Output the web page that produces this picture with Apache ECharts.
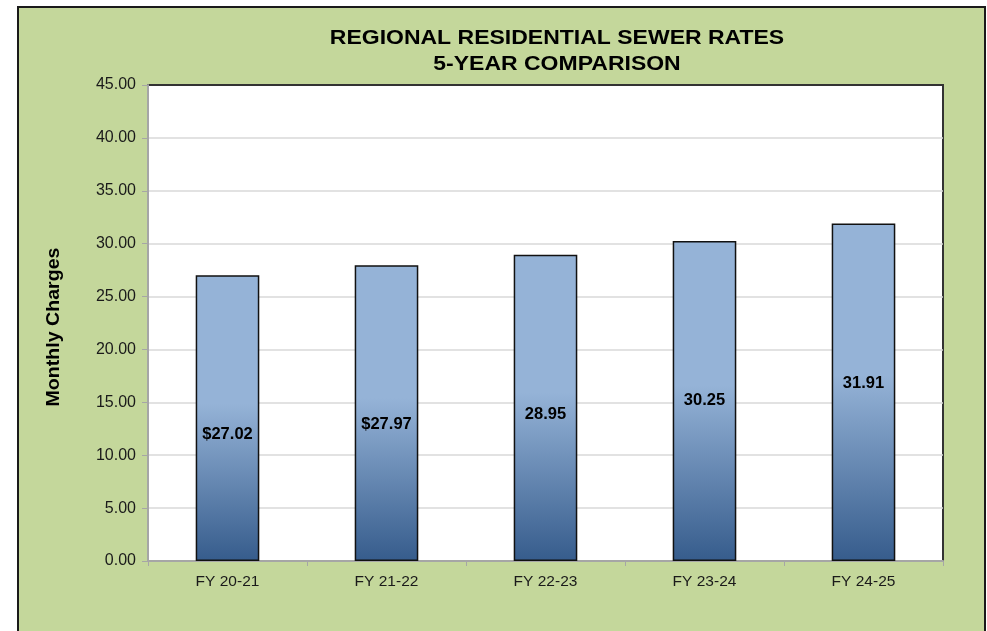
<!DOCTYPE html>
<html><head><meta charset="utf-8">
<script src="https://cdn.jsdelivr.net/npm/echarts@6/dist/echarts.min.js"></script>
<style>html,body{margin:0;padding:0;background:#fff;}#c{width:987px;height:631px;}</style>
</head><body><div id="c"></div>
<script>
const categories = ['FY 20-21', 'FY 21-22', 'FY 22-23', 'FY 23-24', 'FY 24-25'];
const values = [27.02, 27.97, 28.95, 30.25, 31.91];
const valueLabels = ['$27.02', '$27.97', '28.95', '30.25', '31.91'];
const titleLines = ['REGIONAL RESIDENTIAL SEWER RATES', '5-YEAR COMPARISON'];
const yAxisName = 'Monthly Charges';

const chart = echarts.init(document.getElementById('c'));
const font = '"Liberation Sans", Arial, sans-serif';
function txt(t, x, y, size, sx, rot) {
  return {
    type: 'text', x: x, y: y, scaleX: sx, rotation: rot || 0, silent: true, z: 10,
    style: { text: t, font: 'bold ' + size + 'px ' + font, fill: '#000',
      textAlign: 'center', textVerticalAlign: 'middle', align: 'center', verticalAlign: 'middle' }
  };
}
chart.setOption({
  animation: false,
  graphic: [{
    type: 'rect', z: -10, silent: true,
    shape: { x: 18, y: 7, width: 967, height: 640 },
    style: { fill: '#c4d79b', stroke: '#1a1a1a', lineWidth: 2 }
  },
  txt(titleLines[0], 557, 38, 21, 1.095),
  txt(titleLines[1], 557, 64, 21, 1.095),
  txt(yAxisName, 54, 327, 17.5, 1.12, Math.PI / 2)
  ],
  grid: {
    left: 148, top: 85, right: 44, bottom: 70,
    show: true, backgroundColor: '#fff', borderColor: '#333', borderWidth: 2
  },
  xAxis: {
    type: 'category', data: categories,
    axisLine: { lineStyle: { color: '#a6a6a6', width: 2 } },
    axisTick: { show: true, length: 5, lineStyle: { color: '#a6a6a6' } },
    axisLabel: { fontFamily: font, fontSize: 15.5, color: '#1a1a1a', margin: 13 }
  },
  yAxis: {
    type: 'value', min: 0, max: 45, interval: 5,
    axisLine: { show: true, lineStyle: { color: '#a6a6a6', width: 2 } },
    axisTick: { show: true, length: 6, lineStyle: { color: '#a6a6a6' } },
    axisLabel: { fontFamily: font, fontSize: 16, color: '#1a1a1a', margin: 12,
      formatter: v => v.toFixed(2) },
    splitLine: { showMaxLine: false, lineStyle: { color: '#d9d9d9', width: 1.5 } }
  },
  series: [{
    type: 'bar', barWidth: '40%',
    data: values.map((v, i) => ({ value: v, label: { formatter: valueLabels[i] } })),
    itemStyle: {
      borderColor: '#111', borderWidth: 1.5,
      color: { type: 'linear', x: 0, y: 0, x2: 0, y2: 1, colorStops: [
        { offset: 0, color: '#95b3d7' },
        { offset: 0.45, color: '#95b3d7' },
        { offset: 1, color: '#365c8c' }
      ] }
    },
    label: { show: true, position: 'insideTop', distance: 151,
      fontFamily: font, fontSize: 16.5, fontWeight: 'bold', color: '#000' }
  }]
});
</script></body></html>
